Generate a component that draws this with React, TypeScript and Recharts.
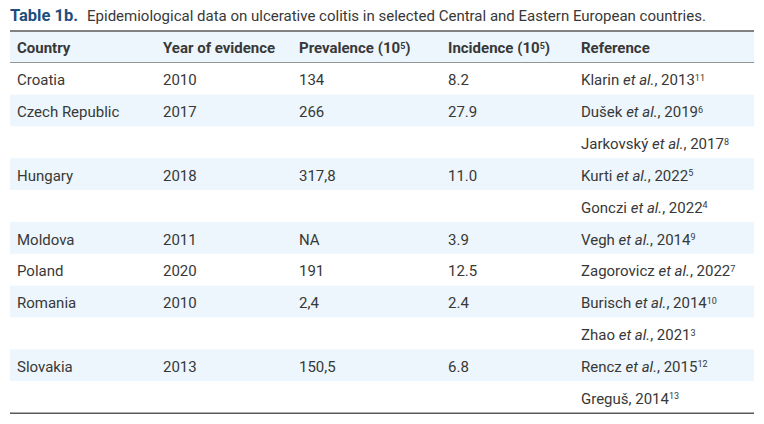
import { ComposedChart, Bar, XAxis, YAxis } from "recharts";

const titleLabel = "Table 1b.";
const titleText =
  "Epidemiological data on ulcerative colitis in selected Central and Eastern European countries.";

const headers = ["Country", "Year of evidence", "Prevalence (10", "Incidence (10", "Reference"];
const headerSup = ["", "", "5", "5", ""];

const countries = ["Croatia", "Czech Republic", "", "Hungary", "", "Moldova", "Poland", "Romania", "", "Slovakia", ""];
const years = ["2010", "2017", "", "2018", "", "2011", "2020", "2010", "", "2013", ""];
const prevalence = ["134", "266", "", "317,8", "", "NA", "191", "2,4", "", "150,5", ""];
const incidence = ["8.2", "27.9", "", "11.0", "", "3.9", "12.5", "2.4", "", "6.8", ""];
const refAuthors = ["Klarin", "Dušek", "Jarkovský", "Kurti", "Gonczi", "Vegh", "Zagorovicz", "Burisch", "Zhao", "Rencz", "Greguš"];
const refEtAl = [true, true, true, true, true, true, true, true, true, true, false];
const refYears = ["2013", "2019", "2017", "2022", "2022", "2014", "2022", "2014", "2021", "2015", "2014"];
const refNumbers = ["11", "6", "8", "5", "4", "9", "7", "10", "3", "12", "13"];

const FONT = "Roboto, 'Noto Sans', sans-serif";
const FS = 15;
const TEXT = "#383838";
const BAND = "#ecf6fc";
const RULE = "#5a5a5a";
const colX = [7, 153, 289, 438, 571];

const data = [
  { key: "header", band: 1, header: true, last: false, i: -1 },
  ...countries.map((_, i) => ({
    key: `row${i}`,
    band: 1,
    header: false,
    last: i === countries.length - 1,
    i,
  })),
];

function Row(props: any) {
  const { x, y, width, height, payload, index } = props;
  const base = y + height / 2 + 6.5;
  const fill = payload.header || index % 2 === 0 ? BAND : "#ffffff";

  if (payload.header) {
    return (
      <g>
        <text x={x} y={y - 10.5} fontFamily={FONT} fontSize={FS} fill={TEXT}>
          <tspan fontWeight="bold" fill="#1d4e7e" fontSize={16.5}>
            {titleLabel}
          </tspan>
          <tspan dx={9}>{titleText}</tspan>
        </text>
        <rect x={x} y={y} width={width} height={height} fill={fill} />
        <line x1={x} x2={x + width} y1={y} y2={y} stroke={RULE} strokeWidth={1.5} />
        <line x1={x} x2={x + width} y1={y + height} y2={y + height} stroke={RULE} strokeWidth={1.5} />
        {headers.map((h, c) => (
          <text key={c} x={x + colX[c]} y={base - 0.5} fontFamily={FONT} fontSize={FS} fontWeight="bold" fill={TEXT}>
            {h}
            {headerSup[c] && (
              <>
                <tspan dy={-4.5} fontSize={9}>
                  {headerSup[c]}
                </tspan>
                <tspan dy={4.5}>)</tspan>
              </>
            )}
          </text>
        ))}
      </g>
    );
  }

  const i = payload.i;
  const cells = [countries[i], years[i], prevalence[i], incidence[i]];
  return (
    <g>
      <rect x={x} y={y} width={width} height={height} fill={fill} />
      {cells.map((t, c) =>
        t ? (
          <text key={c} x={x + colX[c]} y={base} fontFamily={FONT} fontSize={FS} fill={TEXT}>
            {t}
          </text>
        ) : null
      )}
      <text x={x + colX[4]} y={base} fontFamily={FONT} fontSize={FS} fill={TEXT}>
        {refAuthors[i]}
        {refEtAl[i] && (
          <>
            {" "}
            <tspan fontStyle="italic">et al.</tspan>
          </>
        )}
        {", " + refYears[i]}
        <tspan dy={-4.5} fontSize={9}>
          {refNumbers[i]}
        </tspan>
      </text>
      {payload.last && (
        <line x1={x} x2={x + width} y1={y + height} y2={y + height} stroke={RULE} strokeWidth={1.5} />
      )}
    </g>
  );
}

export default function App() {
  return (
    <div style={{ position: "absolute", left: 0, top: 0, width: 764, height: 424, background: "#fff" }}>
      <ComposedChart
        width={764}
        height={424}
        data={data}
        layout="vertical"
        margin={{ top: 31, right: 10, bottom: 11, left: 10 }}
        barCategoryGap={0}
        barGap={0}
      >
        <XAxis type="number" domain={[0, 1]} hide />
        <YAxis type="category" dataKey="key" hide />
        <Bar dataKey="band" shape={Row} isAnimationActive={false} />
      </ComposedChart>
    </div>
  );
}
